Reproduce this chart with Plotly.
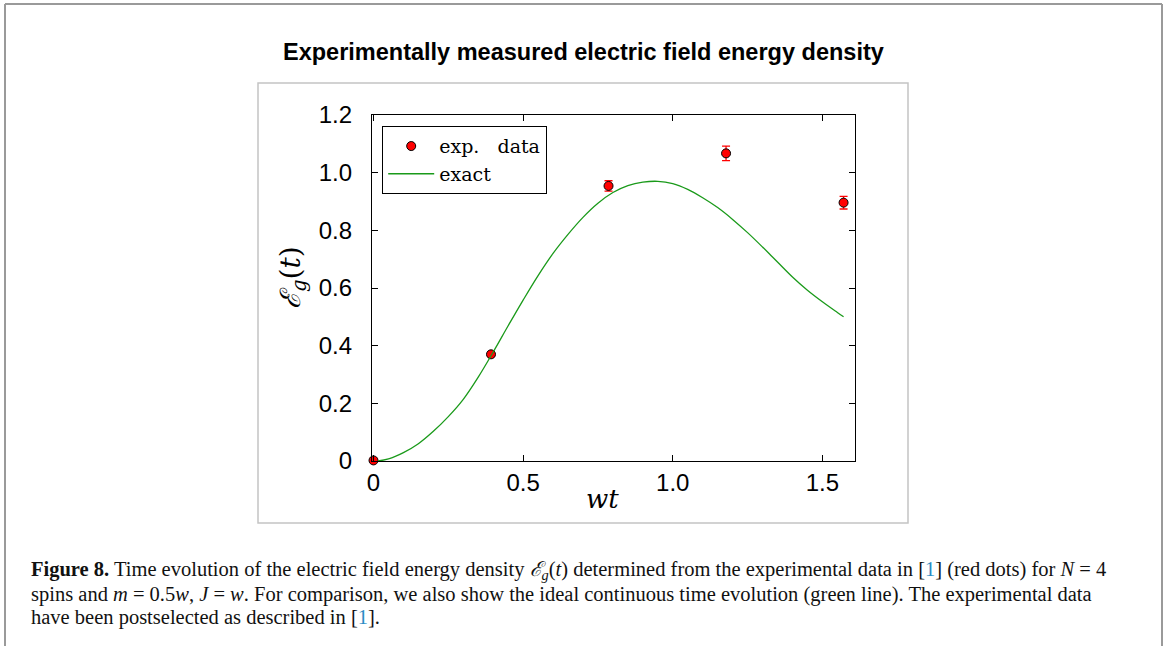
import plotly.graph_objects as go

# ---- data ----
exp_t = [0.0, 0.3927, 0.7854, 1.1781, 1.5708]
exp_E = [0.002, 0.370, 0.954, 1.067, 0.896]
exp_err = [0.006, 0.008, 0.018, 0.025, 0.022]

exact_t = [0.015, 0.05, 0.10, 0.15, 0.20, 0.25, 0.30, 0.35, 0.40, 0.45, 0.50,
           0.55, 0.60, 0.65, 0.70, 0.75, 0.80, 0.85, 0.90, 0.95, 1.00,
           1.05, 1.10, 1.15, 1.20, 1.25, 1.30, 1.35, 1.40, 1.45, 1.50, 1.55, 1.5708]
exact_E = [0.0, 0.007, 0.029, 0.060, 0.103, 0.154, 0.214, 0.291, 0.378, 0.469, 0.558,
           0.643, 0.720, 0.786, 0.845, 0.894, 0.931, 0.955, 0.967, 0.970, 0.962,
           0.942, 0.913, 0.879, 0.838, 0.792, 0.742, 0.690, 0.638, 0.592, 0.552, 0.515, 0.500]

x_tickvals = [0, 0.5, 1.0, 1.5]
x_ticktext = ["0", "0.5", "1.0", "1.5"]
y_tickvals = [0, 0.2, 0.4, 0.6, 0.8, 1.0, 1.2]
y_ticktext = ["0", "0.2", "0.4", "0.6", "0.8", "1.0", "1.2"]

series_names = ["exp.\u00a0\u00a0 data", "exact"]
title_text = "Experimentally measured electric field energy density"
caption_lines = [
    "<b>Figure 8.</b> Time evolution of the electric field energy density <i>ℰ<sub>g</sub></i>(<i>t</i>) determined from the experimental data in [<span style='color:#2b8cc4'>1</span>] (red dots) for <i>N</i> = 4",
    "spins and <i>m</i> = 0.5<i>w</i>, <i>J</i> = <i>w</i>. For comparison, we also show the ideal continuous time evolution (green line). The experimental data",
    "have been postselected as described in [<span style='color:#2b8cc4'>1</span>].",
]

W, H = 1165, 646
L, R, T, B = 372, 855, 115, 461  # plot area pixel bounds

def px(x):
    return (x - L) / (R - L)

def py(y):
    return (B - y) / (B - T)

fig = go.Figure()

fig.add_trace(go.Scatter(
    x=exp_t, y=exp_E, mode="markers", name=series_names[0],
    marker=dict(color="#ff0000", size=9, line=dict(color="black", width=1)),
    error_y=dict(type="data", array=exp_err, visible=True, color="#ff0000",
                 thickness=1.3, width=4),
    cliponaxis=False,
))
fig.add_trace(go.Scatter(
    x=exact_t, y=exact_E, mode="lines", name=series_names[1],
    line=dict(color="#1a9a1a", width=1.3, shape="spline", smoothing=1.0),
))

axis_common = dict(
    showgrid=False, zeroline=False, showline=True, linecolor="black", linewidth=1.2,
    mirror="ticks", ticks="inside", ticklen=6, tickcolor="black", tickwidth=1,
    tickfont=dict(family="Liberation Sans, Arial", size=24, color="black"),
)

fig.update_xaxes(range=[-0.005, 1.609], tickvals=x_tickvals, ticktext=x_ticktext,
                 ticklabelstandoff=0, **axis_common)
fig.update_yaxes(range=[0, 1.2], tickvals=y_tickvals, ticktext=y_ticktext,
                 ticklabelstandoff=14, **axis_common)

annotations = [
    dict(text="<b>" + title_text + "</b>", x=px(583), y=py(52), xref="paper", yref="paper",
         showarrow=False, xanchor="center", yanchor="middle",
         font=dict(family="Liberation Sans, Arial", size=23.5, color="black")),
    dict(text="<i>wt</i>", x=px(602), y=py(499), xref="paper", yref="paper",
         showarrow=False, xanchor="center", yanchor="middle",
         font=dict(family="DejaVu Serif", size=26, color="black")),
    dict(text="<i>ℰ<sub>g</sub></i>(<i>t</i>)", x=px(292), y=py(278), xref="paper", yref="paper",
         showarrow=False, xanchor="center", yanchor="middle", textangle=-90,
         font=dict(family="DejaVu Serif", size=28, color="black")),
]
cap_y = [570, 594, 617]
for line, yy in zip(caption_lines, cap_y):
    annotations.append(dict(text=line, x=px(29), y=py(yy), xref="paper", yref="paper",
                            showarrow=False, xanchor="left", yanchor="middle", align="left",
                            font=dict(family="Liberation Serif", size=20.5, color="#111111")))

shapes = [
    # inner light-gray box around the chart
    dict(type="rect", xref="paper", yref="paper", x0=px(258), x1=px(908), y0=py(523), y1=py(83),
         line=dict(color="#c4c4c4", width=1.5), layer="below"),
    # outer page frame (left, top, right)
    dict(type="line", xref="paper", yref="paper", x0=px(5), x1=px(5), y0=py(4), y1=py(660),
         line=dict(color="#9a9a9a", width=2)),
    dict(type="line", xref="paper", yref="paper", x0=px(5), x1=px(1162), y0=py(4), y1=py(4),
         line=dict(color="#9a9a9a", width=2)),
    dict(type="line", xref="paper", yref="paper", x0=px(1162), x1=px(1162), y0=py(4), y1=py(660),
         line=dict(color="#9a9a9a", width=2)),
]

fig.update_layout(
    width=W, height=H,
    margin=dict(l=L, r=W - R, t=T, b=H - B, pad=0),
    paper_bgcolor="white", plot_bgcolor="white",
    showlegend=True,
    legend=dict(x=px(382), y=py(126), xanchor="left", yanchor="top",
                bordercolor="black", borderwidth=1.2, bgcolor="white",
                font=dict(family="DejaVu Serif", size=19, color="black"),
                tracegroupgap=0, itemwidth=46),
    annotations=annotations,
    shapes=shapes,
)

fig.write_html("out.html", config={"displayModeBar": False},
               post_script="document.body.style.margin='0';")
